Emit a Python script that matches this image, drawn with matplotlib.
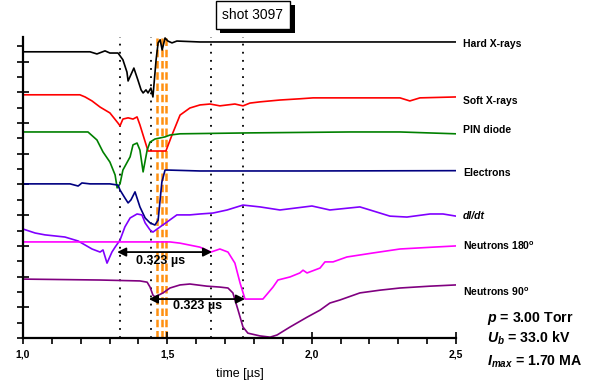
import numpy as np
import matplotlib
matplotlib.use("Agg")
from matplotlib import pyplot as plt
from matplotlib import patheffects as pe

plt.rcParams['font.family'] = ['Liberation Sans', 'DejaVu Sans']
plt.rcParams['mathtext.fontset'] = 'custom'
plt.rcParams['mathtext.rm'] = 'Liberation Sans'
plt.rcParams['mathtext.bf'] = 'Liberation Sans:bold'
plt.rcParams['mathtext.it'] = 'Liberation Sans:italic'
plt.rcParams['mathtext.bfit'] = 'Liberation Sans:italic:bold'

# traces: time [us] and signal in (arbitrary, offset) divisions
hard_t = [1.000, 1.128, 1.232, 1.256, 1.284, 1.301, 1.329, 1.336, 1.346, 1.360, 1.364, 1.384, 1.398,
          1.409, 1.416, 1.426, 1.433, 1.443, 1.450, 1.461, 1.468, 1.475, 1.482, 1.492, 1.502, 1.516,
          1.533, 1.613, 1.959, 2.500]
hard_y = [9.32, 9.32, 9.32, 9.25, 9.35, 9.28, 9.28, 9.19, 9.06, 8.66, 8.37, 8.79, 8.40,
          8.08, 7.98, 8.08, 7.98, 8.14, 7.85, 9.06, 9.61, 9.71, 9.38, 9.77, 9.67, 9.61,
          9.67, 9.64, 9.64, 9.64]

soft_t = [1.000, 1.197, 1.215, 1.239, 1.267, 1.301, 1.329, 1.336, 1.346, 1.364, 1.381, 1.395, 1.405,
          1.433, 1.495, 1.516, 1.544, 1.578, 1.613, 1.648, 1.682, 1.734, 1.762, 1.786, 1.821, 1.890,
          1.959, 2.005, 2.133, 2.306, 2.340, 2.375, 2.500]
soft_y = [7.92, 7.92, 7.85, 7.72, 7.52, 7.33, 7.00, 6.91, 7.13, 7.17, 7.13, 7.20, 6.94,
          6.09, 6.09, 6.61, 7.26, 7.49, 7.59, 7.62, 7.56, 7.62, 7.56, 7.65, 7.69, 7.75,
          7.79, 7.82, 7.82, 7.82, 7.72, 7.82, 7.85]

pin_t = [1.000, 1.225, 1.256, 1.277, 1.301, 1.319, 1.326, 1.336, 1.346, 1.371, 1.381, 1.395, 1.405,
         1.416, 1.430, 1.440, 1.457, 1.492, 1.509, 1.544, 1.786, 2.133, 2.306, 2.500]
pin_y = [6.71, 6.71, 6.45, 6.06, 5.73, 5.31, 4.89, 5.02, 5.47, 5.90, 6.29, 6.35, 6.12,
         5.41, 6.12, 6.38, 6.48, 6.55, 6.61, 6.65, 6.68, 6.71, 6.71, 6.65]

el_t = [1.000, 1.163, 1.191, 1.204, 1.232, 1.301, 1.329, 1.336, 1.353, 1.364, 1.374, 1.388, 1.405,
        1.423, 1.440, 1.457, 1.468, 1.481, 1.492, 1.502, 1.613, 1.959, 2.500]
el_y = [5.02, 5.02, 4.95, 5.05, 5.02, 5.02, 4.98, 4.82, 4.56, 4.40, 4.50, 4.76, 4.27,
        3.91, 3.75, 3.68, 3.84, 5.08, 5.47, 5.47, 5.44, 5.44, 5.45]

didt_t = [1.000, 1.042, 1.076, 1.145, 1.191, 1.239, 1.267, 1.277, 1.291, 1.308, 1.319, 1.336, 1.353,
          1.371, 1.395, 1.412, 1.423, 1.440, 1.450, 1.475, 1.499, 1.533, 1.578, 1.613, 1.658, 1.707,
          1.762, 1.821, 1.890, 2.001, 2.063, 2.167, 2.202, 2.271, 2.330, 2.410, 2.455, 2.500]
didt_y = [3.55, 3.42, 3.36, 3.29, 3.16, 2.90, 2.80, 2.87, 2.44, 2.80, 2.96, 3.19, 3.62,
          3.91, 4.04, 4.01, 3.75, 3.52, 3.45, 3.62, 3.78, 4.01, 4.01, 4.04, 4.07, 4.17,
          4.33, 4.27, 4.17, 4.30, 4.17, 4.27, 4.17, 3.97, 3.94, 4.04, 4.04, 3.97]

n180_t = [1.000, 1.300, 1.509, 1.544, 1.613, 1.651, 1.682, 1.710, 1.734, 1.752, 1.769, 1.831, 1.849,
          1.866, 1.883, 1.925, 1.959, 1.970, 1.984, 2.029, 2.046, 2.074, 2.122, 2.212, 2.306, 2.420, 2.500]
n180_y = [3.13, 3.13, 3.13, 3.09, 2.96, 2.80, 2.90, 2.80, 2.44, 1.79, 1.27, 1.27, 1.47,
          1.66, 1.89, 1.99, 2.12, 2.21, 2.12, 2.28, 2.48, 2.48, 2.64, 2.77, 2.90, 2.96, 3.00]

n90_t = [1.000, 1.267, 1.405, 1.430, 1.440, 1.450, 1.457, 1.485, 1.509, 1.544, 1.578, 1.637, 1.682,
         1.710, 1.727, 1.745, 1.762, 1.779, 1.821, 1.856, 1.880, 1.925, 1.984, 2.029, 2.063, 2.098,
         2.167, 2.237, 2.306, 2.410, 2.500]
n90_y = [1.92, 1.89, 1.86, 1.82, 1.66, 1.40, 1.34, 1.47, 1.63, 1.73, 1.76, 1.69, 1.66,
         1.63, 1.47, 0.91, 0.36, 0.16, 0.07, 0.03, 0.10, 0.36, 0.68, 0.91, 1.14, 1.24,
         1.47, 1.56, 1.63, 1.69, 1.73]

traces = [
    (hard_t, hard_y, 'black', 'Hard X-rays', 9.58),
    (soft_t, soft_y, 'red', 'Soft X-rays', 7.72),
    (pin_t, pin_y, 'green', 'PIN diode', 6.78),
    (el_t, el_y, 'navy', 'Electrons', 5.37),
    (didt_t, didt_y, '#8000ff', 'dI/dt', 3.97),
    (n180_t, n180_y, 'magenta', r'Neutrons 180$^{\mathbf{o}}$', 3.00),
    (n90_t, n90_y, 'purple', r'Neutrons 90$^{\mathbf{o}}$', 1.50),
]

dotted_t = [1.336, 1.443, 1.651, 1.762]
dashed_t = [1.465, 1.480, 1.494]

arrows = [(1.326, 1.655, 2.80, 1.475, 2.50), (1.436, 1.769, 1.27, 1.603, 1.03)]

fig = plt.figure(figsize=(5.95, 3.82), dpi=100)
ax = fig.add_axes([0.0387, 0.115, 0.7277, 0.788])

for t in dashed_t:
    ax.axvline(t, color='#ff9010', lw=1.8, linestyle=(0, (3, 1.5)), zorder=1)
for t in dotted_t:
    ax.axvline(t, color='black', lw=1.3, linestyle=(0, (1, 3.5)), zorder=1)

for t, y, c, name, ly in traces:
    ax.plot(t, y, color=c, lw=1.2, zorder=2)
    if name == 'dI/dt':
        ax.text(2.524, ly, name, fontsize=7.5, fontweight='bold', fontstyle='italic',
                va='center', ha='left', clip_on=False)
    else:
        ax.text(2.524, ly, name, fontsize=7.5, fontweight='bold',
                va='center', ha='left', clip_on=False)

for t0, t1, y, tx, ty in arrows:
    ax.annotate('', xy=(t1, y), xytext=(t0, y),
                arrowprops=dict(arrowstyle='<|-|>', color='black', lw=1.3,
                                mutation_scale=13, shrinkA=0, shrinkB=0), zorder=3)
    ax.text(tx, ty, '0.323 µs', fontsize=9, fontweight='bold', ha='center', va='center', zorder=3)

ax.set_xlim(1.0, 2.5)
ax.set_ylim(0, 9.8)
ax.set_xticks([1.0, 1.5, 2.0, 2.5])
ax.set_xticklabels(['1,0', '1,5', '2,0', '2,5'], fontsize=7.5, fontweight='bold')
ax.set_xticks(np.arange(1.0, 2.51, 0.1), minor=True)
ax.set_yticks(np.arange(0, 10, 1))
ax.set_yticks(np.arange(0.5, 10, 1), minor=True)
ax.set_yticklabels([])
ax.tick_params(which='major', direction='inout', length=8, width=1.2)
ax.tick_params(which='minor', direction='out', length=4, width=1.2)
ax.tick_params(axis='x', which='major', pad=4)
for s in ['top', 'right']:
    ax.spines[s].set_visible(False)
for s in ['left', 'bottom']:
    ax.spines[s].set_linewidth(1.6)
ax.set_xlabel('time [µs]', fontsize=9, labelpad=6)

ax.text(2.607, 0.65, r'$\mathbfit{p}$ = 3.00 Torr', fontsize=10.2, fontweight='bold',
        ha='left', va='center', clip_on=False)
ax.text(2.607, 0.0, r'$\mathbfit{U}_{\mathbfit{b}}$ = 33.0 kV', fontsize=10.2, fontweight='bold',
        ha='left', va='center', clip_on=False)
ax.text(2.607, -0.78, r'$\mathbfit{I}_{\mathbfit{max}}$ = 1.70 MA', fontsize=10.2, fontweight='bold',
        ha='left', va='center', clip_on=False)

title = fig.text(253 / 595, 1 - 15 / 382, 'shot 3097', fontsize=10, ha='center', va='center',
                 bbox=dict(boxstyle='square,pad=0.5', fc='white', ec='black', lw=1))
title.get_bbox_patch().set_path_effects([
    pe.SimplePatchShadow(offset=(3, -3), shadow_rgbFace='black', alpha=1), pe.Normal()])

fig.savefig('out.png', dpi=100)
